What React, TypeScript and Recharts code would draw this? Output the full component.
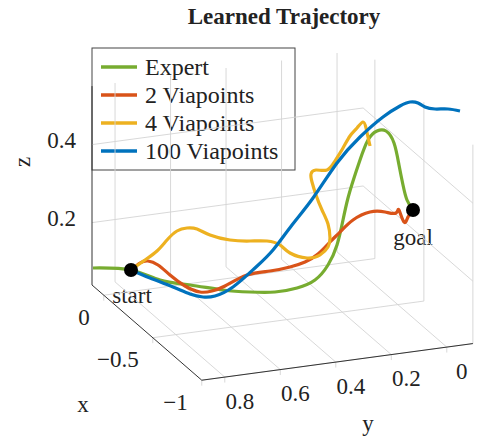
import React from "react";
import { ComposedChart, Line, XAxis, YAxis, ReferenceLine, Customized } from "recharts";

const W = 480;
const H = 440;
const FONT = "'Liberation Serif', serif";

// 3D box extents and ticks
const X_RANGE = [0.12, -1];
const Y_RANGE = [0.883, -0.094];
const Z_RANGE = [0.04, 0.55];
const X_TICKS = [0, -0.5, -1];
const X_TICK_LABELS = ["0", "\u22120.5", "\u22121"];
const Y_TICKS = [0.8, 0.6, 0.4, 0.2, 0];
const Y_TICK_LABELS = ["0.8", "0.6", "0.4", "0.2", "0"];
const Z_TICKS = [0.2, 0.4];
const Z_TICK_LABELS = ["0.2", "0.4"];

// trajectories in view-plane coordinates [u, v]
const EXPERT = [
  [93, 268], [131, 270], [160, 280], [190, 285], [223, 290], [250, 292], [275, 292],
  [297, 288], [315, 280], [328, 265], [337, 245], [343, 220], [348, 198], [354, 178],
  [360, 160], [368, 140], [377, 131], [386, 131], [394, 143], [399, 165], [403, 185],
  [407, 200], [413, 210],
];
const VIA_2 = [
  [131, 270], [140, 263], [148, 261], [158, 265], [170, 275], [185, 286], [200, 292],
  [212, 291], [225, 286], [247, 275], [270, 271], [290, 267], [305, 262], [318, 254],
  [330, 242], [340, 232], [353, 220], [370, 212], [385, 212], [396, 213], [399, 210],
  [404, 222], [408, 217], [413, 210],
];
const VIA_4 = [
  [131, 270], [145, 260], [157, 251], [167, 240], [177, 231], [187, 228], [197, 229],
  [210, 235], [230, 240], [250, 241], [267, 241], [280, 245], [290, 253], [307, 258],
  [320, 255], [328, 247], [330, 238], [328, 224], [322, 210], [316, 195], [312, 182],
  [311, 174], [316, 170], [327, 170], [335, 161], [343, 148], [350, 136], [357, 128],
  [363, 122], [366, 128], [368, 137], [370, 146],
];
const VIA_100 = [
  [131, 270], [150, 278], [173, 287], [190, 294], [203, 297], [215, 296], [233, 287],
  [255, 268], [273, 250], [292, 225], [313, 198], [337, 163], [360, 137], [383, 117],
  [400, 106], [410, 102], [418, 103], [425, 107], [435, 109], [448, 109], [460, 111],
];
const ENDPOINTS = [
  [131, 270],
  [413, 210],
];

const SERIES = [
  { name: "Expert", color: "#77AC30", pts: EXPERT },
  { name: "2 Viapoints", color: "#D95319", pts: VIA_2 },
  { name: "4 Viapoints", color: "#EDB120", pts: VIA_4 },
  { name: "100 Viapoints", color: "#0072BD", pts: VIA_100 },
];

// oblique projection of the 3D box into the view plane
const proj = (x: number, y: number, z: number) => ({
  x: 348.8 - 98 * x - 277.5 * y,
  y: 277.7 - 85 * x + 37.5 * y - 390 * z,
});

const toRows = (pts: number[][]) => pts.map(([u, v]) => ({ u, v }));

function buildGrid() {
  const [x0, x1] = X_RANGE;
  const [y0, y1] = Y_RANGE;
  const [z0, z1] = Z_RANGE;
  const segs: { x: number; y: number }[][] = [];
  // floor
  for (const y of Y_TICKS) segs.push([proj(x0, y, z0), proj(x1, y, z0)]);
  for (const x of X_TICKS) segs.push([proj(x, y0, z0), proj(x, y1, z0)]);
  // back-left wall (x = max)
  for (const y of Y_TICKS) segs.push([proj(x0, y, z0), proj(x0, y, z1)]);
  for (const z of Z_TICKS) segs.push([proj(x0, y0, z), proj(x0, y1, z)]);
  // back-right wall (y = min)
  for (const x of X_TICKS) segs.push([proj(x, y1, z0), proj(x, y1, z1)]);
  for (const z of Z_TICKS) segs.push([proj(x0, y1, z), proj(x1, y1, z)]);
  // tick marks
  for (const x of X_TICKS) segs.push([proj(x, y0, z0), proj(x, y0, z0 - 0.014)]);
  for (const y of Y_TICKS) segs.push([proj(x1, y, z0), proj(x1, y, z0 - 0.014)]);
  return segs;
}

function buildAxes() {
  const [x0, x1] = X_RANGE;
  const [y0, y1] = Y_RANGE;
  const [z0, z1] = Z_RANGE;
  return [
    [proj(x0, y0, z0), proj(x0, y0, z1)],
    [proj(x0, y0, z0), proj(x1, y0, z0)],
    [proj(x1, y0, z0), proj(x1, y1, z0)],
  ];
}

const Overlay = () => {
  const [x0, x1] = X_RANGE;
  const [y0] = Y_RANGE;
  const [z0] = Z_RANGE;
  const txt = { fontFamily: FONT, fontSize: 23, fill: "#222" } as const;
  return (
    <g>
      <text x={284} y={16} textAnchor="middle" dominantBaseline="central"
        style={{ ...txt, fontSize: 23, fontWeight: "bold" }}>
        Learned Trajectory
      </text>
      {X_TICKS.map((x, i) => {
        const p = proj(x, y0, z0);
        return (
          <text key={"xt" + i} x={p.x - 14} y={p.y + 22} textAnchor="end"
            dominantBaseline="central" style={txt}>
            {X_TICK_LABELS[i]}
          </text>
        );
      })}
      {Y_TICKS.map((y, i) => {
        const p = proj(x1, y, z0);
        return (
          <text key={"yt" + i} x={p.x + 15} y={p.y + 24} textAnchor="middle"
            dominantBaseline="central" style={txt}>
            {Y_TICK_LABELS[i]}
          </text>
        );
      })}
      {Z_TICKS.map((z, i) => {
        const p = proj(x0, y0, z);
        return (
          <text key={"zt" + i} x={p.x - 16} y={p.y - 4} textAnchor="end"
            dominantBaseline="central" style={txt}>
            {Z_TICK_LABELS[i]}
          </text>
        );
      })}
      <text x={83} y={404} textAnchor="middle" dominantBaseline="central" style={txt}>x</text>
      <text x={368} y={423} textAnchor="middle" dominantBaseline="central" style={txt}>y</text>
      <text x={22} y={162} textAnchor="middle" dominantBaseline="central" style={txt}
        transform="rotate(-90 22 162)">z</text>
      <text x={132} y={295} textAnchor="middle" dominantBaseline="central" style={txt}>start</text>
      <text x={413} y={237} textAnchor="middle" dominantBaseline="central" style={txt}>goal</text>

      {/* legend */}
      <rect x={92} y={48} width={203} height={122} fill="#fff" stroke="#444" strokeWidth={1} />
      {SERIES.map((s, i) => (
        <g key={s.name}>
          <line x1={101} x2={137} y1={67 + i * 28} y2={67 + i * 28} stroke={s.color} strokeWidth={3.5} />
          <text x={145} y={67 + i * 28} dominantBaseline="central" style={{ ...txt, fontSize: 24 }}>
            {s.name}
          </text>
        </g>
      ))}
    </g>
  );
};

export default function App() {
  const grid = buildGrid();
  const axes = buildAxes();
  return (
    <div style={{ position: "absolute", left: 0, top: 0, width: W, height: H, background: "#fff" }}>
      <ComposedChart width={W} height={H} margin={{ top: 0, right: 0, bottom: 0, left: 0 }}>
        <XAxis type="number" dataKey="u" domain={[0, W]} allowDataOverflow hide />
        <YAxis type="number" dataKey="v" domain={[0, H]} allowDataOverflow reversed hide />
        {grid.map((seg, i) => (
          <ReferenceLine key={"g" + i} segment={seg} stroke="#d4d4d4" strokeWidth={0.9}
            ifOverflow="visible" />
        ))}
        {axes.map((seg, i) => (
          <ReferenceLine key={"a" + i} segment={seg} stroke="#333" strokeWidth={1}
            ifOverflow="visible" />
        ))}
        {SERIES.map((s) => (
          <Line key={s.name} name={s.name} data={toRows(s.pts)} dataKey="v" type="natural"
            stroke={s.color} strokeWidth={3.2} dot={false} activeDot={false}
            isAnimationActive={false} />
        ))}
        <Line data={toRows(ENDPOINTS)} dataKey="v" stroke="none" legendType="none"
          dot={{ r: 7, fill: "#000", stroke: "none" }} activeDot={false}
          isAnimationActive={false} />
        <Customized component={Overlay} />
      </ComposedChart>
    </div>
  );
}
